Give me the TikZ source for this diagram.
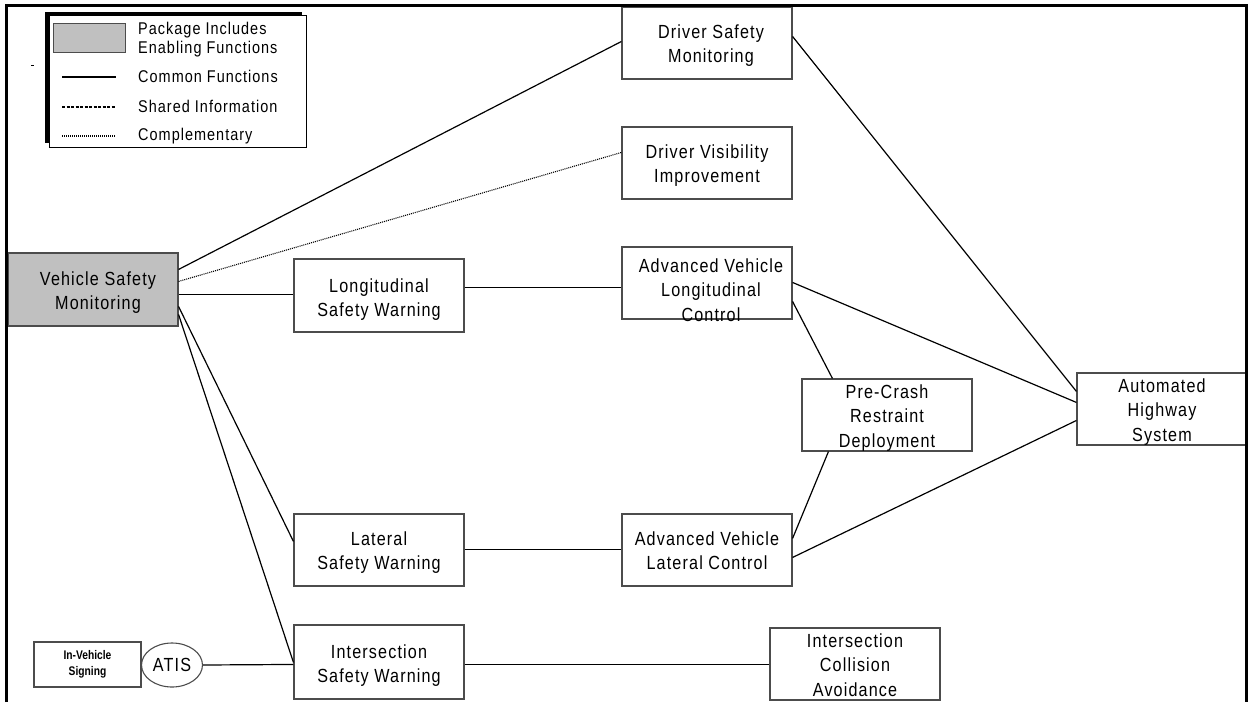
\documentclass[tikz,border=0pt]{standalone}
\usepackage{fontspec}
\setmainfont{Liberation Sans}[FakeStretch=0.85, LetterSpace=6]
\newfontfamily\plainsans{Liberation Sans}[FakeStretch=0.82]
\usetikzlibrary{shapes.geometric,calc}
\definecolor{silver}{RGB}{192,192,192}
\begin{document}
\begin{tikzpicture}[x=1pt,y=-1pt,
  box/.style={draw=black!70, line width=1.1pt, inner sep=0pt, minimum width=170pt, minimum height=72pt},
  grey box/.style={box, fill=silver},
  txt/.style={inner sep=0pt, anchor=north, align=center, font=\fontsize{19}{24.5}\selectfont},
  leg/.style={inner sep=0pt, anchor=base west, font=\fontsize{17}{18}\selectfont},
  conn/.style={line width=1.2pt, black},
  comp/.style={line width=1.1pt, black, dash pattern=on 1pt off 1pt},
  shared/.style={line width=1.1pt, black, dash pattern=on 3pt off 1.5pt},
]
\useasboundingbox (0,0) rectangle (1249,702);

% legend
\fill[black] (45,12) rectangle (302,143);
\draw[fill=white, line width=0.8pt] (49,15) rectangle (306,147);
\node[draw=black!70, fill=silver, line width=1pt, minimum width=72pt, minimum height=29pt, inner sep=0pt] (legpkg) at (89,37.5) {};
\node[leg] (legt1) at (138,34) {Package Includes};
\node[leg] (legt2) at (138,53) {Enabling Functions};
\draw[conn] (62,77) -- (116,77);
\node[leg] (legt3) at (138,82) {Common Functions};
\draw[shared] (62,107) -- (116,107);
\node[leg] (legt4) at (138,112) {Shared Information};
\draw[comp] (62,136) -- (116,136);
\node[leg] (legt5) at (138,140) {Complementary};
\draw[line width=0.8pt] (31,65) -- (33.5,65);

% boxes
\node[grey box, minimum height=73pt] (vsm) at (93,289.5) {};
\node[txt] (vsmt) at (98,271.1) {Vehicle Safety\\Monitoring};

\node[box] (dsm) at (707,43) {};
\node[txt] (dsmt) at (711,24.1) {Driver Safety\\Monitoring};

\node[box] (dvi) at (707,163) {};
\node[txt] (dvit) at (707,144.1) {Driver Visibility\\Improvement};

\node[box, minimum height=73pt] (lsw) at (379,295.5) {};
\node[txt] (lswt) at (379,278.1) {Longitudinal\\Safety Warning};

\node[box] (avlc) at (707,283) {};
\node[txt] (avlct) at (711,258.1) {Advanced Vehicle\\Longitudinal\\Control};

\node[box] (pcrd) at (887,415) {};
\node[txt] (pcrdt) at (887,384.1) {Pre-Crash\\Restraint\\Deployment};

\node[box] (ahs) at (1162,409) {};
\node[txt] (ahst) at (1162,378.1) {Automated\\Highway\\System};

\node[box] (latsw) at (379,550) {};
\node[txt] (latswt) at (379,531.1) {Lateral\\Safety Warning};

\node[box] (avlatc) at (707,550) {};
\node[txt] (avlatct) at (707,531.1) {Advanced Vehicle\\Lateral Control};

\node[box, minimum height=74pt] (isw) at (379,662) {};
\node[txt] (iswt) at (379,644.1) {Intersection\\Safety Warning};

\node[box] (ica) at (855,664) {};
\node[txt] (icat) at (855,633.1) {Intersection\\Collision\\Avoidance};

\node[box, minimum width=107pt, minimum height=45pt] (ivs) at (87.5,664.5) {};
\node[inner sep=0pt, anchor=north, align=center, font=\plainsans\bfseries\fontsize{12.5}{16}\selectfont] (ivst) at (87.5,649.9) {In-Vehicle\\Signing};

\node[ellipse, draw=black!70, line width=1.1pt, minimum width=61pt, minimum height=44pt, inner sep=0pt, font=\fontsize{19}{20}\selectfont] (atis) at (172,665) {ATIS};

% connectors
\draw[conn] ($(vsm.north east)+(0,17)$) -- ($(dsm.north west)+(0,35)$);
\draw[comp] ($(vsm.north east)+(0,29)$) -- ($(dvi.north west)+(0,26)$);
\draw[conn] ($(vsm.north east)+(0,42)$) -- ($(lsw.north west)+(0,36)$);
\draw[conn] ($(vsm.north east)+(0,54)$) -- ($(latsw.north west)+(0,28)$);
\draw[conn] ($(vsm.north east)+(0,62)$) -- ($(isw.north west)+(0,38)$);
\draw[conn] ($(lsw.north east)+(0,29)$) -- ($(avlc.north west)+(0,41)$);
\draw[conn] ($(avlc.north east)+(0,36)$) -- ($(ahs.north west)+(0,30)$);
\draw[conn] ($(avlc.north east)+(0,55)$) -- ($(pcrd.north west)+(31,0)$);
\draw[conn] ($(dsm.north east)+(0,30)$) -- ($(ahs.north west)+(0,19)$);
\draw[conn] ($(avlatc.north east)+(0,25)$) -- ($(pcrd.south west)+(27,0)$);
\draw[conn] ($(avlatc.north east)+(0,44)$) -- ($(ahs.north west)+(0,48)$);
\draw[conn] ($(latsw.north east)+(0,36)$) -- ($(avlatc.north west)+(0,36)$);
\draw[conn] ($(isw.north east)+(0,40)$) -- ($(ica.north west)+(0,37)$);
\draw[conn] (atis.east) -- ($(isw.north west)+(0,40)$);

% outer frame
\draw[line width=3pt] (6.5,702) -- (6.5,5) -- (1246.5,5) -- (1246.5,702);
\end{tikzpicture}
\end{document}
